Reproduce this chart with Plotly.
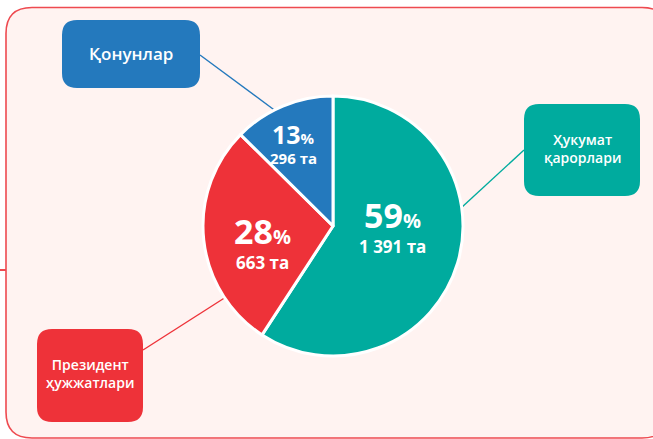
import plotly.graph_objects as go

# ---- data ----
categories = ["Ҳукумат қарорлари", "Президент ҳужжатлари", "Қонунлар"]
counts = [1391, 663, 296]
percents = [59, 28, 13]
count_labels = ["1 391 та", "663 та", "296 та"]
colors = ["#00ab9e", "#ee3239", "#2479bd"]

W, H = 653, 439
FONT = "Open Sans"

fig = go.Figure()

# pie: centre (333,226), radius 130 in pixels
cx, cy, r = 333, 226, 130
fig.add_trace(go.Pie(
    values=counts, labels=categories, sort=False, direction="clockwise", rotation=0,
    marker=dict(colors=colors, line=dict(color="white", width=3)),
    textinfo="none", hoverinfo="skip", showlegend=False,
    domain=dict(x=[(cx - r) / W, (cx + r) / W], y=[1 - (cy + r) / H, 1 - (cy - r) / H]),
))


def rrect(x0, y0, x1, y1, rad):
    return (f"M {x0+rad},{y0} L {x1-rad},{y0} Q {x1},{y0} {x1},{y0+rad} "
            f"L {x1},{y1-rad} Q {x1},{y1} {x1-rad},{y1} L {x0+rad},{y1} "
            f"Q {x0},{y1} {x0},{y1-rad} L {x0},{y0+rad} Q {x0},{y0} {x0+rad},{y0} Z")


shapes = []
# outer frame
shapes.append(dict(type="path", path=rrect(6, 7.5, 668, 438, 26), xref="x", yref="y",
                   fillcolor="#fff3f1", line=dict(color="#ee4a50", width=1.6), layer="below"))
# small red tick on left
shapes.append(dict(type="line", x0=0, x1=6, y0=270, y1=270, xref="x", yref="y",
                   line=dict(color="#ee4a50", width=2), layer="below"))

# callout boxes: (category index, x0, y0, x1, y1, line from, line to)
boxes = [
    (0, 524, 104, 640, 196, (524, 150), (461, 208)),
    (1, 37, 329, 143, 422, (143, 350), (226, 297)),
    (2, 62, 20, 200, 88, (200, 55), (277, 112)),
]
box_text = ["Ҳукумат<br>қарорлари", "Президент<br>ҳужжатлари", "Қонунлар"]
box_font = [14, 14, 17]
annotations = []
for (i, x0, y0, x1, y1, p0, p1) in boxes:
    shapes.append(dict(type="line", x0=p0[0], y0=p0[1], x1=p1[0], y1=p1[1], xref="x", yref="y",
                       line=dict(color=colors[i], width=1.4), layer="below"))
    shapes.append(dict(type="path", path=rrect(x0, y0, x1, y1, 15), xref="x", yref="y",
                       fillcolor=colors[i], line=dict(width=0), layer="above"))
    annotations.append(dict(x=(x0 + x1) / 2, y=(y0 + y1) / 2 - (2 if i < 2 else 1), xref="x", yref="y",
                            text=box_text[i], showarrow=False, align="center",
                            font=dict(family=FONT, size=box_font[i], color="white", weight=600)))

# slice labels
pct_pos = [(392, 215), (262, 231), (293, 134)]
cnt_pos = [(392, 246), (262, 262), (293, 158)]
pct_size = [34, 34, 25]
pct_sign = [20, 20, 15]
cnt_size = [17, 17, 15]
for i in range(3):
    annotations.append(dict(x=pct_pos[i][0], y=pct_pos[i][1], xref="x", yref="y", showarrow=False,
                            text=f"<b>{percents[i]}</b><b><span style='font-size:{pct_sign[i]}px'>%</span></b>",
                            font=dict(family=FONT, size=pct_size[i], color="white")))
    annotations.append(dict(x=cnt_pos[i][0], y=cnt_pos[i][1], xref="x", yref="y", showarrow=False,
                            text=f"<b>{count_labels[i]}</b>",
                            font=dict(family=FONT, size=cnt_size[i], color="white")))

fig.update_layout(
    width=W, height=H, margin=dict(l=0, r=0, t=0, b=0),
    paper_bgcolor="white", plot_bgcolor="rgba(0,0,0,0)",
    xaxis=dict(range=[0, W], visible=False, fixedrange=True),
    yaxis=dict(range=[H, 0], visible=False, fixedrange=True),
    shapes=shapes, annotations=annotations,
)

fig.write_html("out.html", config={"displayModeBar": False},
               post_script="document.body.style.margin='0px';document.body.style.overflow='hidden';")
